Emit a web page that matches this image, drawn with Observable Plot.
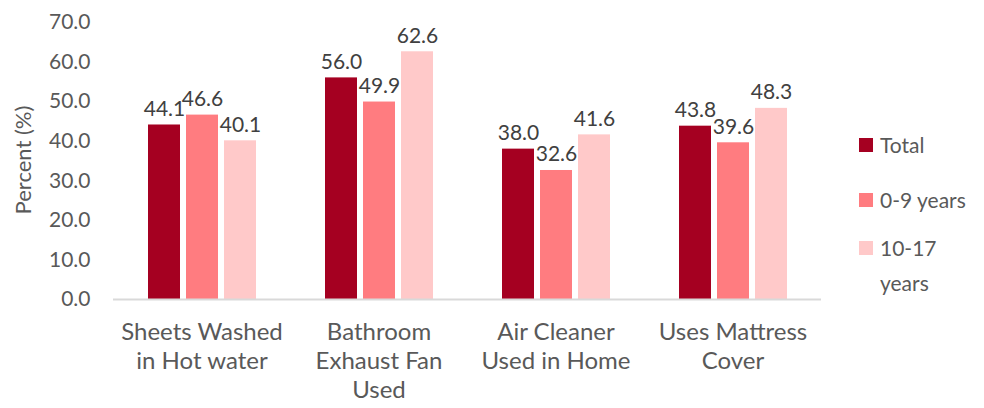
<!DOCTYPE html>
<html><head>
<meta charset="utf-8">
<script src="https://cdn.jsdelivr.net/npm/d3@7"></script>
<script src="https://cdn.jsdelivr.net/npm/@observablehq/plot@0.6"></script>
<style>
body{margin:0;background:#fff;font-family:Lato,sans-serif}
#wrap{position:relative;width:984px;height:408px;overflow:hidden}
.item{position:absolute;left:859px;width:125px;font-size:21px;line-height:35px;color:#595959}
.sw{position:absolute;left:0;width:14px;height:14px}
.lab{position:absolute;left:21px;width:100px}
#ytitle{position:absolute;left:22px;top:160px;transform:translate(-50%,-50%) rotate(-90deg);white-space:nowrap;font-size:22px;color:#595959}
</style></head><body><div id="wrap"></div>
<script>
const categories = ["Sheets Washed in Hot water","Bathroom Exhaust Fan Used","Air Cleaner Used in Home","Uses Mattress Cover"];
const categoryLabels = ["Sheets Washed\nin Hot water","Bathroom\nExhaust Fan\nUsed","Air Cleaner\nUsed in Home","Uses Mattress\nCover"];
const series = ["Total","0-9 years","10-17 years"];
const total = [44.1,56.0,38.0,43.8];
const age0to9 = [46.6,49.9,32.6,39.6];
const age10to17 = [40.1,62.6,41.6,48.3];
const colors = ["#A50021","#FF7C80","#FFC9C9"];
const yTicks = [0,10,20,30,40,50,60,70];
const yTitle = "Percent (%)";
const legendTops = [127,182,230];

const seriesValues = [total, age0to9, age10to17];
const data = [];
categories.forEach((c,i)=>seriesValues.forEach((arr,j)=>data.push({category:c, series:series[j], value:arr[i]})));

const chart = Plot.plot({
  width:984, height:408, marginLeft:112, marginRight:162, marginTop:22, marginBottom:109,
  style:{fontFamily:"Lato, sans-serif", background:"#fff", overflow:"visible"},
  fx:{domain:categories, padding:0, axis:null},
  x:{domain:series, axis:null, paddingInner:0.16, paddingOuter:0.885},
  y:{domain:[0,70], axis:null},
  color:{domain:series, range:colors},
  marks:[
    Plot.axisY({ticks:yTicks, tickSize:0, tickPadding:23, tickFormat:d=>d.toFixed(1), fontSize:21, color:"#595959", label:null}),
    Plot.barY(data,{fx:"category", x:"series", y:"value", fill:"series"}),
    Plot.ruleY([0],{stroke:"#D9D9D9", strokeWidth:2}),
    Plot.text(data,{fx:"category", x:"series", y:"value", text:d=>d.value.toFixed(1), dy:-9, lineAnchor:"bottom", fontSize:21, fill:"#404040"}),
    Plot.text(categories,{fx:d=>d, text:d=>categoryLabels[categories.indexOf(d)], frameAnchor:"bottom", lineAnchor:"top", dy:20, fontSize:24, lineHeight:1.2, fill:"#595959"})
  ]
});
const wrap = document.getElementById("wrap");
wrap.appendChild(chart);
const yt = document.createElement("div"); yt.id="ytitle"; yt.textContent=yTitle; wrap.appendChild(yt);
series.forEach((s,i)=>{
  const it = document.createElement("div");
  it.className="item"; it.style.top = legendTops[i]+"px";
  const sw = document.createElement("div"); sw.className="sw"; sw.style.background=colors[i]; sw.style.top="11px";
  const lb = document.createElement("div"); lb.className="lab"; lb.textContent=s;
  it.appendChild(sw); it.appendChild(lb); wrap.appendChild(it);
});
</script>
</body></html>
